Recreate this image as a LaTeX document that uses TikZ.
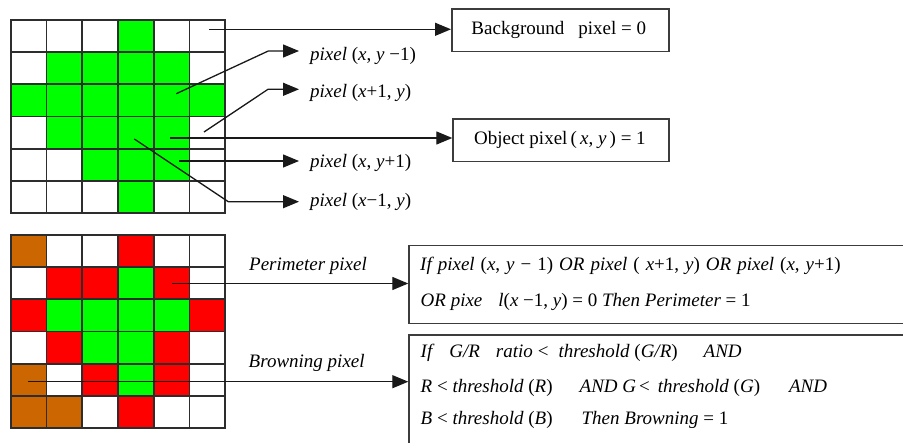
\documentclass[tikz,border=0pt]{standalone}
\usepackage{fontspec}
\setmainfont{Liberation Serif}
\usetikzlibrary{arrows.meta}
\definecolor{cW}{RGB}{255,255,255}
\definecolor{cG}{RGB}{0,255,0}
\definecolor{cR}{RGB}{255,0,0}
\definecolor{cB}{RGB}{204,102,0}
\definecolor{gridline}{RGB}{45,45,45}
\definecolor{boxline}{RGB}{60,60,60}

\begin{document}
\begin{tikzpicture}[x=1pt,y=-1pt,
  cellline/.style={draw=gridline,line width=1.8pt,line cap=rect},
  conn/.style={line width=1.3pt,draw=black!90},
  arr/.style={conn,-{Triangle[length=16pt,width=13pt]}},
  infobox/.style={draw=boxline,line width=1.5pt,inner sep=0pt},
  txt/.style={font=\fontsize{19}{22}\selectfont,inner sep=0pt},
  lbl/.style={txt,anchor=west},
]
\clip (0,0) rectangle (903,443);
\fill[white] (0,0) rectangle (903,443);

\def\pxW{35.77}
\def\pxH{32.2}

% upper grid: segmented object
\foreach \rowcols [count=\r from 0] in
  {{cW,cW,cW,cG,cW,cW},{cW,cG,cG,cG,cG,cW},{cG,cG,cG,cG,cG,cG},
   {cW,cG,cG,cG,cG,cW},{cW,cW,cG,cG,cG,cW},{cW,cW,cW,cG,cW,cW}}{
  \foreach \cc [count=\c from 0] in \rowcols {
    \fill[\cc] (10.7+\c*\pxW,20+\r*\pxH) rectangle ++(\pxW,\pxH);
  }
}
% lower grid: perimeter and browning pixels
\foreach \rowcols [count=\r from 0] in
  {{cB,cW,cW,cR,cW,cW},{cW,cR,cR,cG,cR,cW},{cR,cG,cG,cG,cG,cR},
   {cW,cR,cG,cG,cR,cW},{cB,cW,cR,cG,cR,cW},{cB,cB,cW,cR,cW,cW}}{
  \foreach \cc [count=\c from 0] in \rowcols {
    \fill[\cc] (10.7+\c*\pxW,235+\r*\pxH) rectangle ++(\pxW,\pxH);
  }
}
\foreach \i in {0,...,6} {
  \draw[cellline] (10.7+\i*\pxW,20) -- (10.7+\i*\pxW,213.2);
  \draw[cellline] (10.7,20+\i*\pxH) -- (225.3,20+\i*\pxH);
  \draw[cellline] (10.7+\i*\pxW,235) -- (10.7+\i*\pxW,428.2);
  \draw[cellline] (10.7,235+\i*\pxH) -- (225.3,235+\i*\pxH);
}

% result boxes
\node[infobox,minimum width=217pt,minimum height=42.4pt,anchor=north west]
  (bgBox) at (451,8.3) {};
\node[txt] (bgText) at ([xshift=-1.5pt]bgBox.center) {Background\hspace{14pt}pixel = 0};
\node[infobox,minimum width=215.7pt,minimum height=42.4pt,anchor=north west]
  (objBox) at (452.3,118.3) {};
\node[txt] (objText) at ([xshift=-1pt]objBox.center)
  {Object pixel\,(\,\textit{x}, \textit{y}\,) = 1};

% neighbour labels
\node[lbl] (nUp)    at (310,55.7)  {\textit{pixel} (\textit{x}, \textit{y} −1)};
\node[lbl] (nRight) at (310,93.3)  {\textit{pixel} (\textit{x}+1, \textit{y})};
\node[lbl] (nDown)  at (310,163.3) {\textit{pixel} (\textit{x}, \textit{y}+1)};
\node[lbl] (nLeft)  at (310,201.7) {\textit{pixel} (\textit{x}−1, \textit{y})};

% connector anchors on the upper grid
\coordinate (sBg)    at (209,29.3);
\coordinate (sObj)   at (170,138);
\coordinate (sUp)    at (176.3,93.7);
\coordinate (kUp)    at (268.3,51);
\coordinate (sRight) at (204,132);
\coordinate (kRight) at (268,89.3);
\coordinate (sDown)  at (179,161);
\coordinate (sLeft)  at (134.3,139);
\coordinate (kLeft)  at (228.3,201.7);

\draw[arr] (sBg) -- (sBg -| bgBox.west);
\draw[arr] (sObj) -- (sObj -| objBox.west);
\draw[arr,shorten >=11pt] (sUp) -- (kUp) -- (kUp -| nUp.west);
\draw[arr,shorten >=11pt] (sRight) -- (kRight) -- (kRight -| nRight.west);
\draw[arr,shorten >=11pt] (sDown) -- (sDown -| nDown.west);
\draw[arr,shorten >=11pt] (sLeft) -- (kLeft) -- (kLeft -| nLeft.west);

% rule boxes
\node[infobox,minimum width=600pt,minimum height=78pt,anchor=north west]
  (perBox) at (408.3,245) {};
\node[infobox,minimum width=600pt,minimum height=160pt,anchor=north west]
  (brBox) at (408.3,334.3) {};

\node[lbl] (perL1) at (420,266)
  {\spaceskip=6pt plus 1pt\textit{If pixel} (\textit{x}, \textit{y} − 1) \textit{OR pixel} ( \textit{x}+1, \textit{y}) \textit{OR pixel} (\textit{x}, \textit{y}+1)};
\node[lbl] (perL2) at (420.5,301.7)
  {\textit{OR pixe\hspace{16pt}l}(\textit{x} −1, \textit{y}) = 0 \textit{Then Perimeter} = 1};
\node[lbl] (brL1) at (420.5,353.3)
  {\textit{If\hspace{17pt}G/R\hspace{16pt}ratio}\hspace{5pt}<\hspace{10pt}\textit{threshold} (\textit{G/R})\hspace{26pt}\textit{AND}};
\node[lbl] (brL2) at (420.5,387.5)
  {\textit{R} < \textit{threshold} (\textit{R})\hspace{27pt}\textit{AND G}\hspace{3pt}<\hspace{8pt}\textit{threshold} (\textit{G})\hspace{29pt}\textit{AND}};
\node[lbl] (brL3) at (420.5,420)
  {\textit{B} < \textit{threshold} (\textit{B})\hspace{29pt}\textit{Then Browning} = 1};

% category labels and connectors from the lower grid
\node[txt] (perLabel) at (308,265.5) {\textit{Perimeter pixel}};
\node[txt] (brLabel)  at (306.7,362.7) {\textit{Browning pixel}};
\coordinate (sPer) at (171.7,283.5);
\coordinate (sBr)  at (28.3,381.7);
\draw[arr] (sPer) -- (sPer -| perBox.west);
\draw[arr] (sBr) -- (sBr -| brBox.west);
\end{tikzpicture}
\end{document}
